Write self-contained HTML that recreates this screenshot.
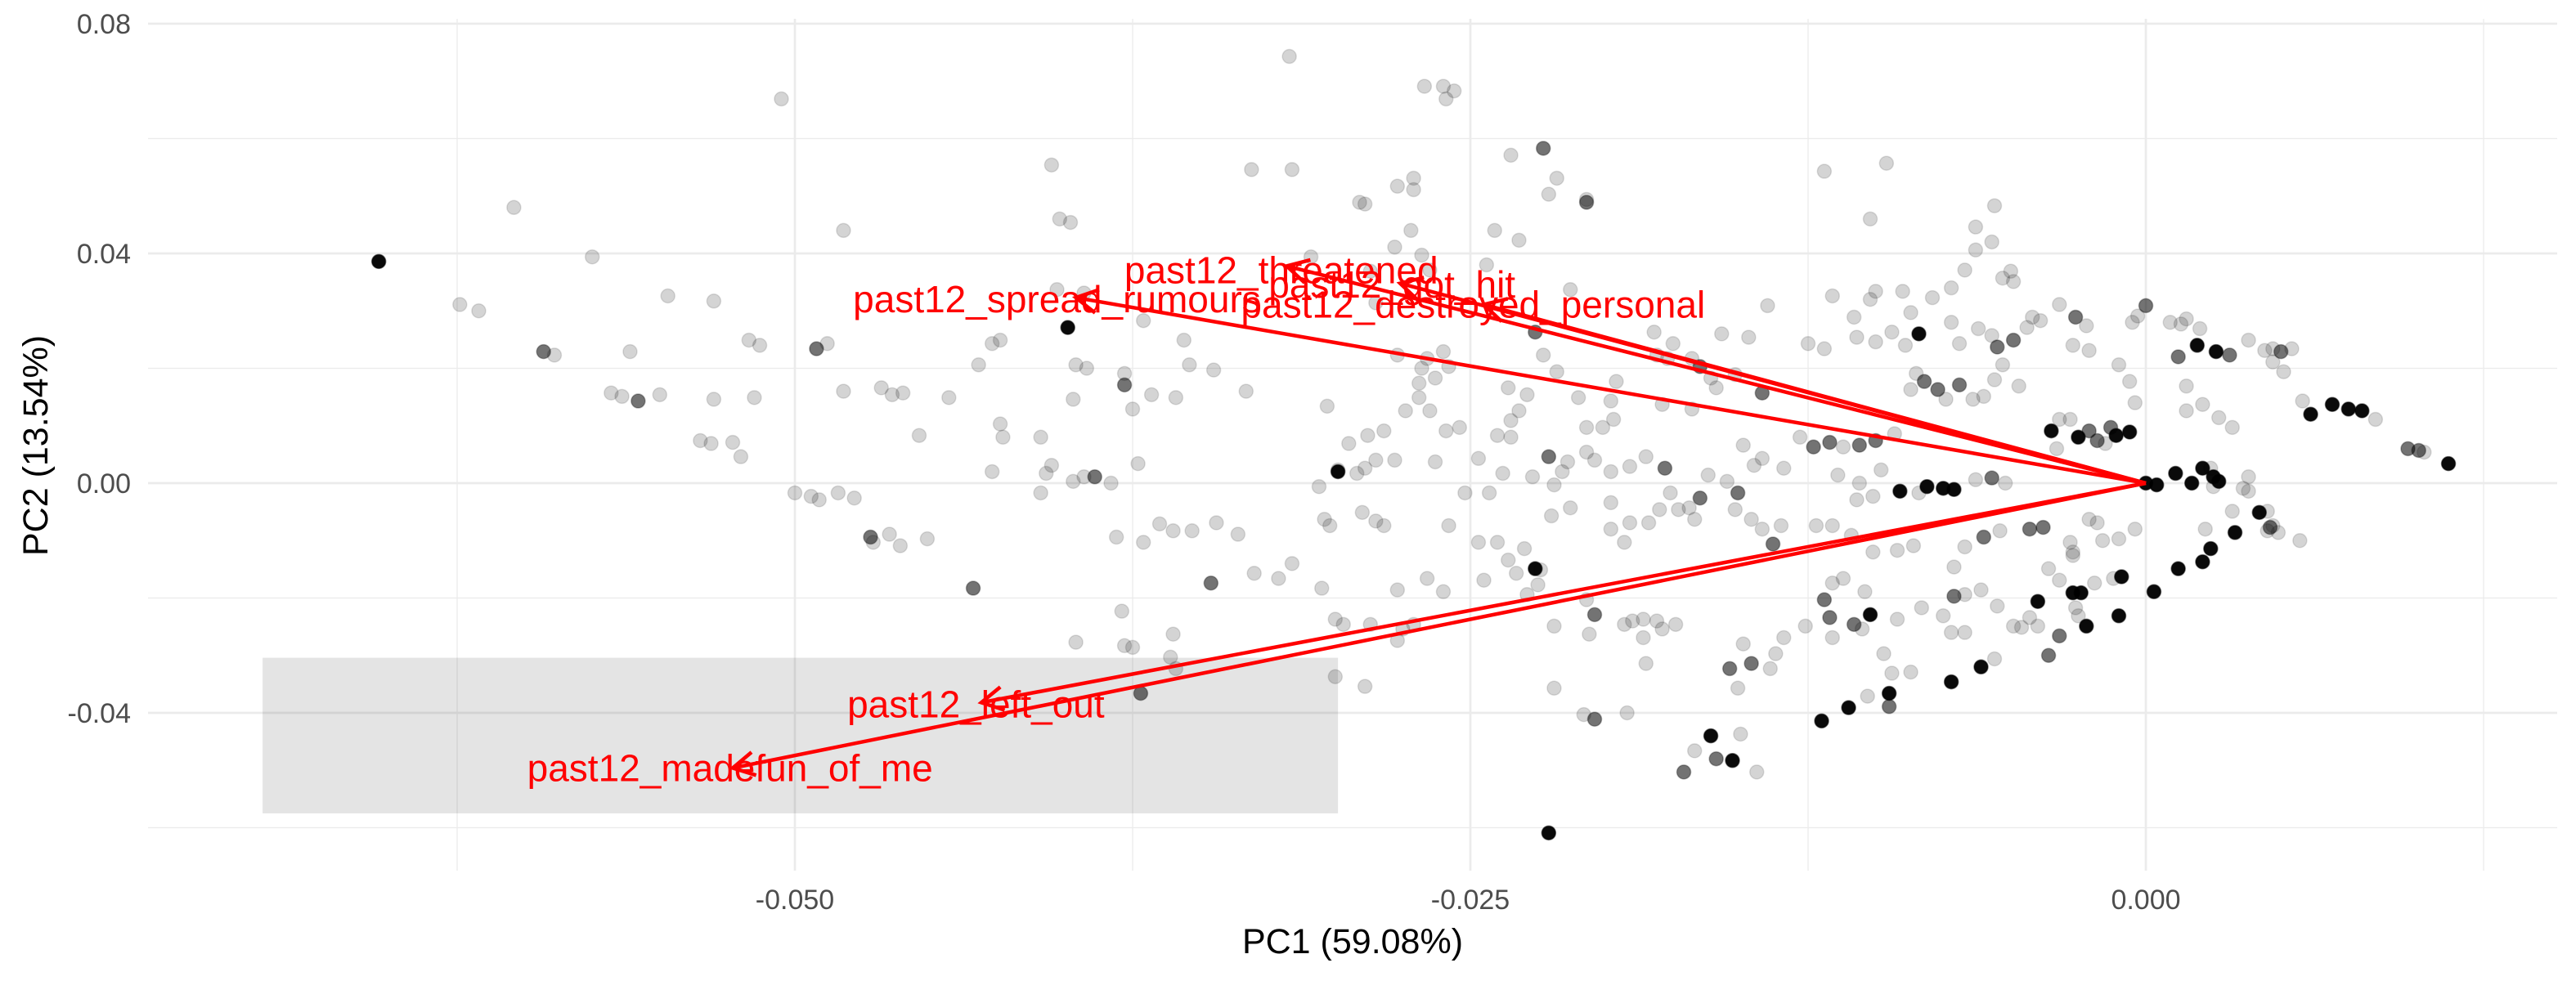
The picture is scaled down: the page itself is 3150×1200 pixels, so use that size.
<!DOCTYPE html>
<html><head><meta charset="utf-8"><style>
html,body{margin:0;padding:0;background:#fff;}
svg{display:block;font-family:"Liberation Sans",Arial,sans-serif;}
</style></head><body>
<svg id="chart" width="3150" height="1200" viewBox="0 0 3150 1200" xmlns="http://www.w3.org/2000/svg">
<rect x="0" y="0" width="3150" height="1200" fill="#fff"/>
<g id="grid"></g>
<rect id="hl" fill="rgba(0,0,0,0.105)"/>
<g id="pts"></g>
<g id="arrows"></g>
<g id="axes"></g>
<text x="1654" y="1166" font-size="43" text-anchor="middle" fill="#000">PC1 (59.08%)</text>
<text x="0" y="0" font-size="43" text-anchor="middle" fill="#000" transform="translate(58,545) rotate(-90)">PC2 (13.54%)</text>
</svg>
<script>
// PC scores in units of 1e-3
const pc1 = [-65.4,-62.4,-61.7,-60.4,-59.3,-58.9,-57.5,-56.1,-56.8,-56.4,-55.8,-55.0,-54.7,-53.5,-53.1,-52.3,-52.0,-53.0,-51.5,-53.0,-51.7,-51.3,-50.5,-50.0,-49.4,-49.1,-48.4,-47.8,-47.2,-47.1,-49.2,-48.8,-48.2,-48.2,-46.8,-46.4,-46.0,-46.5,-46.1,-45.1,-45.4,-44.3,-43.4,-43.2,-42.7,-42.4,-42.4,-42.7,-42.3,-40.9,-40.5,-40.2,-39.8,-40.3,-39.9,-39.3,-39.6,-39.2,-39.7,-40.7,-40.9,-40.5,-39.7,-39.3,-38.9,-38.3,-37.3,-39.6,-37.8,-37.5,-37.2,-36.1,-35.9,-36.0,-37.9,-38.1,-37.1,-36.5,-36.0,-35.9,-37.8,-37.8,-36.8,-37.5,-37.1,-35.6,-35.4,-34.5,-33.3,-33.1,-34.4,-35.3,-33.6,-34.6,-33.0,-31.6,-32.1,-31.6,-31.7,-30.9,-30.3,-29.9,-30.6,-29.9,-29.2,-30.4,-30.2,-30.5,-30.0,-29.7,-28.7,-30.0,-28.9,-27.7,-27.5,-27.1,-27.7,-26.6,-28.2,-28.5,-29.0,-28.9,-27.8,-27.7,-27.1,-26.7,-26.0,-25.6,-25.9,-27.1,-29.1,-28.9,-27.2,-26.8,-26.5,-27.8,-28.7,-28.5,-27.7,-26.8,-26.6,-26.0,-26.3,-25.8,-26.9,-26.9,-26.5,-27.4,-28.2,-28.8,-28.5,-29.5,-25.9,-25.4,-26.3,-24.7,-24.0,-23.5,-25.2,-24.3,-24.7,-25.8,-26.0,-24.5,-23.6,-23.3,-22.5,-22.9,-22.4,-24.0,-23.0,-22.6,-22.0,-21.9,-21.6,-22.1,-22.7,-23.8,-22.3,-22.1,-20.7,-20.7,-21.8,-23.5,-24.1,-23.2,-24.4,-21.3,-22.6,-22.3,-21.8,-23.6,-23.5,-23.2,-22.9,-21.0,-19.6,-19.8,-19.7,-20.1,-20.7,-20.7,-20.4,-21.4,-19.8,-19.1,-18.5,-21.3,-19.8,-19.8,-19.3,-19.1,-18.4,-20.7,-20.4,-19.3,-19.0,-18.6,-18.1,-17.4,-18.6,-17.9,-18.5,-21.9,-20.6,-21.9,-20.4,-20.8,-19.2,-17.1,-15.9,-15.0,-15.1,-15.4,-14.6,-13.7,-13.9,-14.9,-13.4,-12.6,-11.7,-11.6,-10.8,-10.5,-10.2,-11.9,-11.6,-11.2,-9.2,-8.3,-10.4,-9.4,-8.7,-9.7,-7.2,-7.5,-6.7,-6.7,-7.1,-6.1,-5.5,-12.0,-11.0,-9.5,-10.3,-7.2,-6.1,-5.6,-4.9,-4.0,-2.7,-3.6,-3.2,-2.7,-1.6,-1.2,-1.9,-0.9,-2.4,-4.3,-4.0,-4.6,-17.9,-18.2,-18.1,-17.5,-17.7,-16.8,-16.5,-16.1,-15.9,-15.2,-15.7,-14.7,-14.2,-16.8,-17.8,-17.6,-17.3,-16.9,-16.5,-18.0,-16.7,-16.2,-15.5,-15.1,-15.2,-14.6,-14.2,-13.8,-13.5,-14.5,-14.9,-14.2,-13.4,-12.8,-12.3,-11.7,-11.2,-10.6,-10.0,-9.3,-11.4,-10.6,-9.8,-10.7,-10.1,-9.1,-8.4,-8.1,-7.5,-7.1,-6.3,-5.7,-5.2,-12.2,-11.6,-10.9,-10.1,-9.2,-8.6,-6.7,-7.1,-6.0,-5.4,-4.3,-3.8,-2.7,-2.8,-2.1,-1.8,-1.0,-0.4,-14.0,-12.5,-11.9,-11.6,-10.8,-10.7,-10.0,-9.4,-8.9,-8.4,-7.9,-6.7,-7.2,-6.9,-6.2,-5.7,-5.5,-4.9,-4.4,-3.9,-5.3,-6.0,-8.5,-8.7,-8.2,-7.7,-6.9,-7.4,-6.4,-5.6,-4.7,-3.5,-3.3,-2.8,-2.5,-2.1,-1.8,-1.3,-1.5,-1.1,-0.6,-0.4,-3.2,-4.2,-3.2,-2.6,-2.2,-2.7,-2.1,-1.0,-0.6,-10.2,-11.9,-9.6,-10.0,-9.0,-10.2,-8.7,-6.3,-6.3,-5.7,-5.6,-5.3,-5.0,-4.9,-7.2,-0.5,0.0,-0.3,0.9,1.5,1.3,2.0,1.2,1.9,2.6,3.1,3.8,4.4,4.7,5.0,4.7,5.1,5.4,1.5,1.5,2.1,2.7,3.2,5.8,1.1,1.7,2.1,2.5,2.7,2.4,3.6,3.8,3.8,6.1,6.9,7.5,8.0,8.5,9.7,10.1,10.3,11.2,1.2,2.1,2.4,3.3,4.2,5.7,3.2,4.5,4.7,4.6,2.2,4.5,4.9,0.3,-1.0,-2.2,-3.2,2.5,-3.6,-2.6,-2.5,-9.5,-15.3,-14.4,-16.7,-16.1,-22.1,0.0,0.4];
const pc2 = [38.6,31.1,30.0,48.0,22.9,22.3,39.4,22.9,15.7,15.1,14.3,15.4,32.6,7.4,6.9,7.1,4.6,14.6,14.9,31.7,24.9,24.0,66.9,-1.7,-2.3,-2.9,-1.7,-2.6,-9.4,-10.3,23.4,24.3,16.0,44.0,16.6,15.4,15.7,-8.9,-10.9,-9.7,8.3,14.9,-18.3,20.6,24.3,24.9,10.3,2.0,8.0,8.0,55.4,46.0,45.4,33.7,27.1,33.1,20.6,20.0,14.6,1.7,-1.7,3.1,0.3,1.1,1.1,0,3.4,-27.7,-28.3,-28.6,-36.6,-30.3,-32.3,-26.3,-22.3,-9.4,-10.3,-7.1,-8.3,14.9,17.1,19.1,15.4,12.9,28.3,24.9,20.6,19.7,16.0,54.6,-6.9,-8.3,-8.9,-17.4,-15.7,-14.0,-16.6,54.6,74.3,39.4,13.4,2.3,-0.6,2.0,1.7,-6.3,-7.4,-18.3,-23.7,-24.6,-24.6,-33.7,-35.4,-27.4,-25.4,-24.6,-18.6,-16.6,-7.4,-6.6,-5.1,2.6,4.0,51.7,51.1,69.1,69.1,68.3,66.9,53.1,48.9,48.6,44.0,39.7,37.1,41.1,36.9,31.4,22.3,20.0,21.7,22.9,18.3,20.3,17.4,14.9,12.6,12.6,9.1,8.3,4.0,6.9,9.1,9.7,3.7,4.3,8.3,8.0,-1.7,-1.7,-10.3,-7.4,-18.9,-16.9,-13.4,-15.7,-17.7,-19.4,-15.1,-10.3,-11.4,-14.9,-5.7,-0.3,2.0,4.6,1.1,1.7,58.3,50.3,49.4,48.9,53.1,57.1,44.0,42.3,38.0,33.7,26.3,22.3,19.4,16.6,10.9,12.6,15.4,14.9,17.7,14.3,11.1,9.7,9.7,5.4,4.0,3.7,2.0,2.9,4.6,-4.3,-3.4,-8.0,-10.3,-6.9,-6.9,-20.3,-22.9,-24.6,-24.0,-23.7,-24.0,-24.6,-26.9,-25.4,-31.4,-24.9,-26.3,-35.7,-41.1,-40.3,-40.0,-50.3,-48.0,-43.7,-35.7,-32.3,-31.4,-29.7,-32.3,-28.0,-26.9,-24.9,-23.4,-26.9,-24.6,-25.4,-22.9,-20.3,-17.4,-16.6,-23.7,-21.7,-18.9,-33.1,-32.9,-29.7,-26.0,-23.1,-26.0,-19.4,-19.7,-18.6,-21.4,-41.4,-39.1,-36.6,-37.1,-34.6,-32.0,-30.6,-24.9,-20.6,-19.1,-14.9,-16.9,-12.6,-10.0,-16.6,-17.4,-16.3,-19.1,-23.4,-24.9,-25.1,13.7,26.3,22.3,24.3,21.7,21.7,20.3,18.3,16.6,18.9,26.0,25.4,15.7,12.9,2.6,-1.7,-4.6,-4.3,-2.6,-4.6,-6.3,1.4,0.3,-1.7,-4.6,-6.3,-8.0,-10.6,-7.4,3.1,6.6,4.3,2.6,8.0,6.3,7.1,6.3,6.6,7.4,8.6,1.4,0,2.3,-2.9,-2.3,-1.4,-1.7,-0.6,-0.9,-1.1,0.6,0.9,0,-7.4,-7.4,-9.1,-12.0,-11.7,-10.9,-11.1,-14.6,-9.4,-8.3,-8.0,-7.7,-12.0,-10.3,-6.3,-6.9,-9.7,-8.0,30.9,24.3,23.4,32.6,28.9,25.4,24.6,26.3,24.0,26.0,32.3,37.1,28.0,24.3,26.9,25.7,23.7,24.9,27.1,28.3,20.6,15.1,19.1,16.3,17.7,16.3,17.1,14.6,14.6,18.0,16.9,9.1,6.0,11.1,8.0,9.1,7.4,9.7,6.9,8.3,8.9,14.0,11.1,28.9,31.1,28.9,27.4,24.0,23.1,20.6,17.7,46.0,54.3,55.7,33.4,33.4,32.0,29.7,44.6,40.6,42.0,48.3,35.7,36.9,35.1,34.0,28.0,30.9,29.1,28.0,28.6,27.7,26.9,22.0,24.0,22.9,22.3,24.9,23.1,23.4,22.9,21.1,19.4,23.4,16.9,12.6,13.7,11.4,9.7,14.3,1.7,0,2.6,1.1,0.3,2.6,-0.9,-1.4,1.1,12.0,13.7,12.9,12.6,11.1,6.0,5.7,5.4,3.4,-14.9,-13.7,-11.4,-8.6,-5.1,-10.0,-4.9,-8.3,-7.4,-7.7,-8.0,-4.9,-8.6,-18.9,-23.1,-24.9,-26.6,-0.6,-30.0,-21.7,-23.1,-38.9,-48.3,-50.3,-46.6,-44.0,-60.9,0,-0.3];
// opacity class per point: l = light, m = medium, d = dark
const shade = ("dlllmlllll"+"mlllllllll"+"llllllllml"+"mlllllllll"+"llmlllllll"+
 "lllldlllll"+"llllmlllll"+"mlllllllll"+"mlllllllll"+"lllmllllll"+
 "llldllllll"+"llllllllll"+"llllllllll"+"llllllllll"+"llllllllll"+
 "llllllllll"+"llllllllll"+"ldlllmllml"+"lmllllllml"+"llllllllll"+
 "llllllllll"+"llllmlllll"+"llllllmllm"+"mllmmlllll"+"mlmldmllll"+
 "llllllllml"+"ldddlddlld"+"dllllllddl"+"llllllllml"+"llllmlmlll"+
 "mllllmlllm"+"llllllmmlm"+"mlllllldld"+"ddlmllllll"+"lllmlmmlll"+
 "llllllllll"+"lldllllllm"+"mllllllmmm"+"lllldlldmm"+"mlddllllml"+
 "llllllllll"+"llllllllll"+"mlllllmddm"+"lllmllllll"+"llldddddll"+
 "llddddlmml"+"ddddddllll"+"mllldddmlm"+"llmdlldddd").split("");
// arrow loadings (tips), units of 1e-3
const loadNames = ["past12_madefun_of_me","past12_left_out","past12_threatened","past12_got_hit","past12_destroyed_personal","past12_spread_rumours"];
const loadX = [-52.3,-43.1,-31.8,-27.6,-24.5,-39.6];
const loadY = [-49.6,-38.2,37.8,34.8,31.1,32.3];
const labelX = [-52.4,-43.3,-32.0,-27.9,-24.9,-40.3];
const labelY = [-49.6,-38.5,37.1,34.6,31.1,32.0];
const xMajor = [-0.050,-0.025,0.000];
const xMajorLabels = ["-0.050","-0.025","0.000"];
const xMinor = [-0.0625,-0.0375,-0.0125,0.0125];
const yMajor = [0.08,0.04,0.00,-0.04];
const yMajorLabels = ["0.08","0.04","0.00","-0.04"];
const yMinor = [0.06,0.02,-0.02,-0.06];
const boxX = [-69.7,-29.9];
const boxY = [-30.4,-57.5];

const NS="http://www.w3.org/2000/svg";
const PL=181, PR=3127, PT=23, PB=1065;
function sx(v){return 2624+v*33040;}
function sy(v){return 591-v*7025;}
function mk(tag,attrs,parent){const e=document.createElementNS(NS,tag);for(const k in attrs)e.setAttribute(k,attrs[k]);parent.appendChild(e);return e;}
const grid=document.getElementById('grid');
xMinor.forEach(v=>{const l=mk('line',{x1:sx(v),x2:sx(v),y1:PT,y2:PB,stroke:'#ebebeb','stroke-width':1.3},grid);

});
yMinor.forEach(v=>{const l=mk('line',{x1:PL,x2:PR,y1:sy(v),y2:sy(v),stroke:'#ebebeb','stroke-width':1.3},grid);

});
xMajor.forEach(v=>{const l=mk('line',{x1:sx(v),x2:sx(v),y1:PT,y2:PB,stroke:'#ebebeb','stroke-width':2.7},grid);

});
yMajor.forEach(v=>{const l=mk('line',{x1:PL,x2:PR,y1:sy(v),y2:sy(v),stroke:'#ebebeb','stroke-width':2.7},grid);

});
const hl=document.getElementById('hl');
hl.setAttribute('x',sx(boxX[0]/1000));hl.setAttribute('width',sx(boxX[1]/1000)-sx(boxX[0]/1000));
hl.setAttribute('y',sy(boxY[0]/1000));hl.setAttribute('height',sy(boxY[1]/1000)-sy(boxY[0]/1000));
const pts=document.getElementById('pts');
const fills={l:'rgba(0,0,0,0.17)',m:'rgba(0,0,0,0.55)',d:'rgba(0,0,0,0.96)'};
const strokes={l:'rgba(0,0,0,0.12)',m:'rgba(0,0,0,0.3)',d:'rgba(0,0,0,0.5)'};
for(let i=0;i<pc1.length;i++){const s=shade[i]||'l';
const c=mk('circle',{cx:sx(pc1[i]/1000),cy:sy(pc2[i]/1000),r:8.5,fill:fills[s],stroke:strokes[s],'stroke-width':1.5},pts);

}
const ar=document.getElementById('arrows');
const ox=sx(0),oy=sy(0);
for(let i=0;i<loadNames.length;i++){
const tx=sx(loadX[i]/1000),ty=sy(loadY[i]/1000);
const ln=mk('line',{x1:ox,y1:oy,x2:tx,y2:ty,stroke:'#ff0000','stroke-width':4.5},ar);


const a=Math.atan2(ty-oy,tx-ox),L=30,sp=0.5;
const hd=mk('path',{d:`M${tx-L*Math.cos(a-sp)},${ty-L*Math.sin(a-sp)} L${tx},${ty} L${tx-L*Math.cos(a+sp)},${ty-L*Math.sin(a+sp)}`,fill:'none',stroke:'#ff0000','stroke-width':4.5},ar);


const t=mk('text',{x:sx(labelX[i]/1000),y:sy(labelY[i]/1000)+16,'font-size':46,'text-anchor':'middle',fill:'#ff0000'},ar);
t.textContent=loadNames[i];

}
const ax=document.getElementById('axes');
xMajor.forEach((v,i)=>{const t=mk('text',{x:sx(v),y:1112,'font-size':34,'text-anchor':'middle',fill:'#4d4d4d'},ax);t.textContent=xMajorLabels[i];

});
yMajor.forEach((v,i)=>{const t=mk('text',{x:160,y:sy(v)+12,'font-size':34,'text-anchor':'end',fill:'#4d4d4d'},ax);t.textContent=yMajorLabels[i];

});
</script>
</body></html>
